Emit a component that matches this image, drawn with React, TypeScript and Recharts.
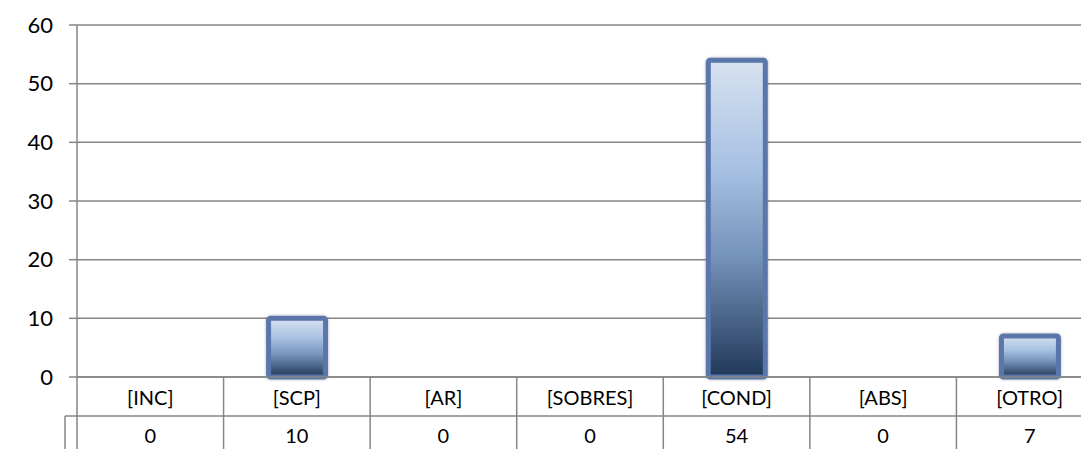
import { BarChart, Bar, XAxis, YAxis, CartesianGrid } from "recharts";

const categories = ["[INC]", "[SCP]", "[AR]", "[SOBRES]", "[COND]", "[ABS]", "[OTRO]"];
const values = [0, 10, 0, 0, 54, 0, 7];
const yTicks = [0, 10, 20, 30, 40, 50, 60];

const data = categories.map((name, i) => ({ name, value: values[i] }));

const GRID = "#868686";
const FONT = "Lato, 'Open Sans', sans-serif";

function TableTick(props: any) {
  const { x, y, payload, index, width } = props;
  const cell = (width || 1026) / categories.length;
  const left = x - cell / 2;
  const right = x + cell / 2;
  const rowH = 39;
  const bottom = y + 80;
  return (
    <g>
      <line x1={right} y1={y} x2={right} y2={bottom} stroke={GRID} strokeWidth={1.5} />
      <line x1={index === 0 ? left - 12 : left} y1={y + rowH} x2={right} y2={y + rowH} stroke={GRID} strokeWidth={1.5} />
      {index === 0 && (
        <>
          <line x1={left} y1={y} x2={left} y2={bottom} stroke={GRID} strokeWidth={1.5} />
          <line x1={left - 12} y1={y + rowH} x2={left - 12} y2={bottom} stroke={GRID} strokeWidth={1.5} />
        </>
      )}
      <text x={x} y={y + 28} textAnchor="middle" fontSize={20} fontFamily={FONT} fill="#000">
        {payload.value}
      </text>
      <text x={x} y={y + 66} textAnchor="middle" fontSize={20} fontFamily={FONT} fill="#000">
        {values[payload.index ?? index]}
      </text>
    </g>
  );
}

export default function App() {
  return (
    <div style={{ position: "fixed", left: 0, top: 0, width: 1081, height: 449, overflow: "hidden", background: "#fff" }}>
      <BarChart
        width={1103}
        height={449}
        data={data}
        margin={{ top: 25, right: 0, left: 0, bottom: 0 }}
      >
        <defs>
          <linearGradient id="barFill" x1="0" y1="0" x2="0" y2="1">
            <stop offset="0%" stopColor="#d7e2f0" />
            <stop offset="35%" stopColor="#a6c0e2" />
            <stop offset="62%" stopColor="#7592ba" />
            <stop offset="100%" stopColor="#213858" />
          </linearGradient>
          <filter id="barShadow" x="-20%" y="-10%" width="140%" height="120%">
            <feDropShadow dx="0" dy="0" stdDeviation="1.5" floodColor="#000" floodOpacity="0.3" />
          </filter>
        </defs>
        <CartesianGrid vertical={false} stroke={GRID} strokeWidth={1.5} />
        <XAxis
          dataKey="name"
          interval={0}
          height={72}
          tickLine={false}
          tickSize={0}
          tickMargin={0}
          axisLine={{ stroke: GRID, strokeWidth: 1.5 }}
          tick={<TableTick />}
        />
        <YAxis
          width={77}
          domain={[0, 60]}
          ticks={yTicks}
          interval={0}
          tickSize={8}
          tickMargin={16}
          axisLine={{ stroke: GRID, strokeWidth: 1.5 }}
          tickLine={{ stroke: GRID, strokeWidth: 1.5 }}
          tick={{ fill: "#000", fontSize: 22, fontFamily: FONT }}
        />
        <Bar
          dataKey="value"
          barSize={57}
          fill="url(#barFill)"
          stroke="#5a76aa"
          strokeWidth={5}
          radius={2}
          filter="url(#barShadow)"
          isAnimationActive={false}
        />
      </BarChart>
    </div>
  );
}
